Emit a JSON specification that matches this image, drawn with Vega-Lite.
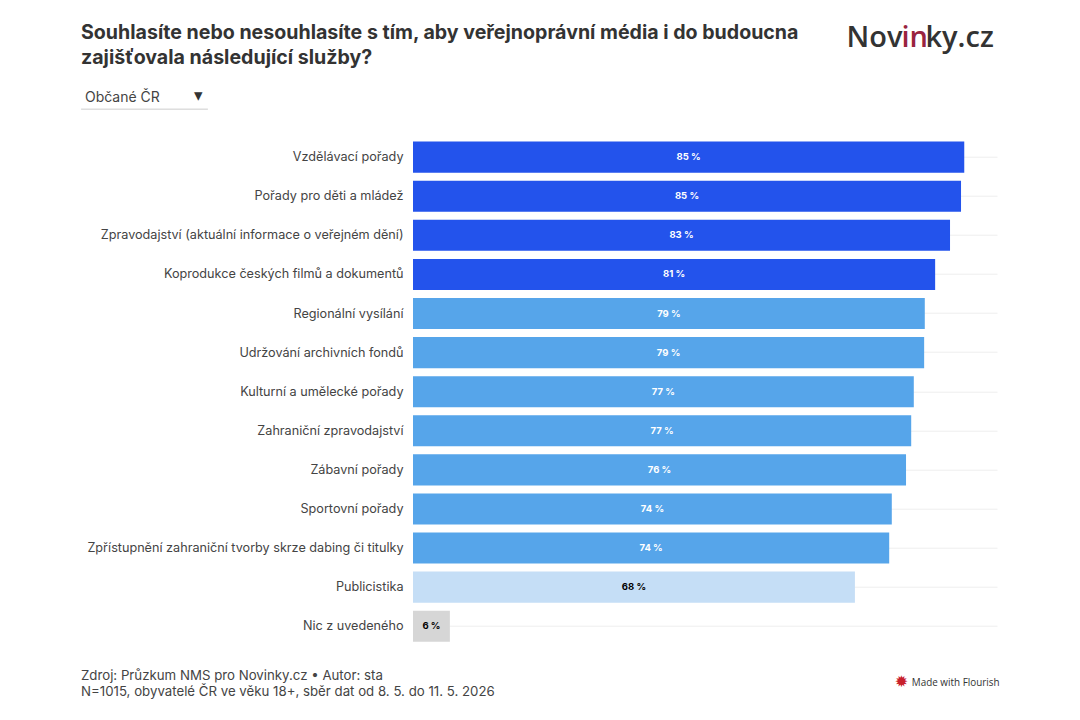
{
  "$schema": "https://vega.github.io/schema/vega-lite/v6.json",
  "width": 584,
  "height": 508,
  "autosize": {"type": "none"},
  "padding": {"left": 413, "top": 137.7, "right": 83, "bottom": 74.3},
  "background": "#ffffff",
  "config": {"view": {"stroke": null}, "font": "Inter"},
  "title": {
    "text": ["Souhlasíte nebo nesouhlasíte s tím, aby veřejnoprávní média i do budoucna", "zajišťovala následující služby?"],
    "anchor": "start",
    "frame": "group",
    "dx": -332,
    "offset": -44.5,
    "font": "Inter",
    "fontSize": 19.6,
    "fontWeight": 700,
    "color": "#333333",
    "lineHeight": 25
  },
  "data": {
    "values": [
      {"sluzba": "Vzdělávací pořady", "podil": 85.2, "popisek": "85 %", "skupina": "nejvyšší"},
      {"sluzba": "Pořady pro děti a mládež", "podil": 84.7, "popisek": "85 %", "skupina": "nejvyšší"},
      {"sluzba": "Zpravodajství (aktuální informace o veřejném dění)", "podil": 83.0, "popisek": "83 %", "skupina": "nejvyšší"},
      {"sluzba": "Koprodukce českých filmů a dokumentů", "podil": 80.7, "popisek": "81 %", "skupina": "nejvyšší"},
      {"sluzba": "Regionální vysílání", "podil": 79.1, "popisek": "79 %", "skupina": "střední"},
      {"sluzba": "Udržování archivních fondů", "podil": 79.0, "popisek": "79 %", "skupina": "střední"},
      {"sluzba": "Kulturní a umělecké pořady", "podil": 77.4, "popisek": "77 %", "skupina": "střední"},
      {"sluzba": "Zahraniční zpravodajství", "podil": 77.0, "popisek": "77 %", "skupina": "střední"},
      {"sluzba": "Zábavní pořady", "podil": 76.2, "popisek": "76 %", "skupina": "střední"},
      {"sluzba": "Sportovní pořady", "podil": 74.0, "popisek": "74 %", "skupina": "střední"},
      {"sluzba": "Zpřístupnění zahraniční tvorby skrze dabing či titulky", "podil": 73.6, "popisek": "74 %", "skupina": "střední"},
      {"sluzba": "Publicistika", "podil": 68.3, "popisek": "68 %", "skupina": "nižší"},
      {"sluzba": "Nic z uvedeného", "podil": 5.7, "popisek": "6 %", "skupina": "nic"}
    ]
  },
  "encoding": {
    "y": {
      "field": "sluzba",
      "type": "nominal",
      "title": null,
      "scale": {
        "domain": [
          "Vzdělávací pořady",
          "Pořady pro děti a mládež",
          "Zpravodajství (aktuální informace o veřejném dění)",
          "Koprodukce českých filmů a dokumentů",
          "Regionální vysílání",
          "Udržování archivních fondů",
          "Kulturní a umělecké pořady",
          "Zahraniční zpravodajství",
          "Zábavní pořady",
          "Sportovní pořady",
          "Zpřístupnění zahraniční tvorby skrze dabing či titulky",
          "Publicistika",
          "Nic z uvedeného"
        ],
        "paddingInner": 0.205,
        "paddingOuter": 0.1
      },
      "axis": {
        "domain": false,
        "ticks": false,
        "grid": true,
        "gridColor": "#eeeeee",
        "gridWidth": 1,
        "labelPadding": 10,
        "labelFont": "Inter",
        "labelFontSize": 12.65,
        "labelColor": "#444444",
        "labelLimit": 400
      }
    }
  },
  "layer": [
    {
      "mark": {"type": "bar"},
      "encoding": {
        "x": {
          "field": "podil",
          "type": "quantitative",
          "scale": {"domain": [0, 90.26]},
          "axis": {
            "title": ["Zdroj: Průzkum NMS pro Novinky.cz • Autor: sta", "N=1015, obyvatelé ČR ve věku 18+, sběr dat od 8. 5. do 11. 5. 2026"],
            "labels": false,
            "ticks": false,
            "domain": false,
            "grid": false,
            "titleFont": "Inter",
            "titleFontSize": 13.25,
            "titleFontWeight": 400,
            "titleColor": "#444444",
            "titleAnchor": "start",
            "titleAlign": "left",
            "titleBaseline": "alphabetic",
            "titleLineHeight": 16,
            "titleX": -332.5,
            "titleY": 34
          }
        },
        "color": {
          "field": "skupina",
          "type": "nominal",
          "legend": null,
          "scale": {
            "domain": ["nejvyšší", "střední", "nižší", "nic"],
            "range": ["#2353ec", "#56a5ea", "#c5def6", "#d6d6d6"]
          }
        }
      }
    },
    {
      "mark": {"type": "text", "font": "Inter", "fontSize": 9.5, "fontWeight": 700},
      "encoding": {
        "x": {"field": "podil", "type": "quantitative", "scale": {"domain": [0, 180.52]}, "axis": null},
        "text": {"field": "popisek"},
        "color": {"condition": {"test": "datum.podil < 70", "value": "#000000"}, "value": "#ffffff"}
      }
    },
    {
      "data": {"values": [{}]},
      "mark": {"type": "text", "align": "left", "dy": -110, "baseline": "alphabetic", "font": "Open Sans", "fontSize": 29, "fontWeight": 600, "color": "#333333"},
      "encoding": {
        "x": {"datum": 67.0, "type": "quantitative", "scale": {"domain": [0, 90.26]}, "axis": null},
        "y": {"datum": "Vzdělávací pořady", "type": "nominal"},
        "text": {"value": "Nov"}
      }
    },
    {
      "data": {"values": [{}]},
      "mark": {"type": "text", "align": "left", "dy": -110, "baseline": "alphabetic", "font": "Open Sans", "fontSize": 29, "fontWeight": 600, "color": "#99243f"},
      "encoding": {
        "x": {"datum": 75.5, "type": "quantitative", "scale": {"domain": [0, 90.26]}, "axis": null},
        "y": {"datum": "Vzdělávací pořady", "type": "nominal"},
        "text": {"value": "in"}
      }
    },
    {
      "data": {"values": [{}]},
      "mark": {"type": "text", "align": "left", "dy": -110, "baseline": "alphabetic", "font": "Open Sans", "fontSize": 29, "fontWeight": 600, "color": "#333333"},
      "encoding": {
        "x": {"datum": 79.2, "type": "quantitative", "scale": {"domain": [0, 90.26]}, "axis": null},
        "y": {"datum": "Vzdělávací pořady", "type": "nominal"},
        "text": {"value": "ky.cz"}
      }
    },
    {
      "data": {"values": [{}]},
      "mark": {"type": "text", "align": "left", "dy": -59.5, "font": "Inter", "fontSize": 14, "color": "#444444"},
      "encoding": {
        "x": {"datum": -50.7, "type": "quantitative", "scale": {"domain": [0, 90.26]}, "axis": null},
        "y": {"datum": "Vzdělávací pořady", "type": "nominal"},
        "text": {"value": "Občané ČR"}
      }
    },
    {
      "data": {"values": [{}]},
      "mark": {"type": "text", "align": "center", "dy": -61, "font": "DejaVu Sans", "fontSize": 17, "color": "#333333"},
      "encoding": {
        "x": {"datum": -33.2, "type": "quantitative", "scale": {"domain": [0, 90.26]}, "axis": null},
        "y": {"datum": "Vzdělávací pořady", "type": "nominal"},
        "text": {"value": "▾"}
      }
    },
    {
      "data": {"values": [{}]},
      "mark": {"type": "rule", "color": "#cccccc", "strokeWidth": 1, "yOffset": -48},
      "encoding": {
        "x": {"datum": -51.3, "type": "quantitative", "scale": {"domain": [0, 90.26]}, "axis": null},
        "x2": {"datum": -31.7},
        "y": {"datum": "Vzdělávací pořady", "type": "nominal"}
      }
    },
    {
      "data": {"values": [{}]},
      "mark": {"type": "text", "align": "left", "dy": 57, "font": "Open Sans", "fontSize": 9.9, "color": "#333333"},
      "encoding": {
        "x": {"datum": 77.1, "type": "quantitative", "scale": {"domain": [0, 90.26]}, "axis": null},
        "y": {"datum": "Nic z uvedeného", "type": "nominal"},
        "text": {"value": "Made with Flourish"}
      }
    },
    {
      "data": {"values": [{}]},
      "mark": {"type": "text", "align": "center", "dy": 56, "font": "DejaVu Sans", "fontSize": 16, "color": "#c8202c"},
      "encoding": {
        "x": {"datum": 75.5, "type": "quantitative", "scale": {"domain": [0, 90.26]}, "axis": null},
        "y": {"datum": "Nic z uvedeného", "type": "nominal"},
        "text": {"value": "✹"}
      }
    }
  ],
  "resolve": {"scale": {"x": "independent", "color": "independent"}, "axis": {"x": "independent"}}
}
